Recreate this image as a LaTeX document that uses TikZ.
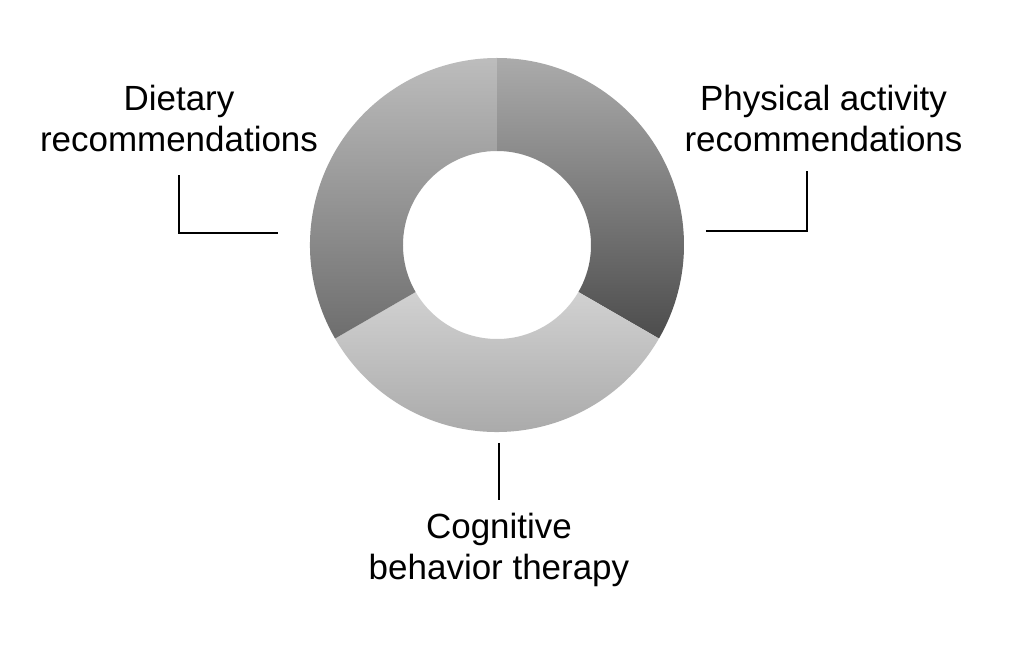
\documentclass[tikz,border=0pt]{standalone}
\usepackage{fontspec}
\setmainfont{Liberation Sans}
\usetikzlibrary{positioning}

\tikzset{
  label/.style={align=center,inner sep=0pt,anchor=base,font=\fontsize{19.9}{23.5}\selectfont},
  leader/.style={line width=0.9pt,black}
}

\begin{document}
\begin{tikzpicture}
		\useasboundingbox[fill=white] (-9.94,-8.06) rectangle (10.54,4.9);
		% ring segments
		\shade[top color=black!33,bottom color=black!70]
			(90:3.74) arc (90:-30:3.74) -- (-30:1.88) arc (-30:90:1.88) -- cycle;
		\shade[top color=black!18,bottom color=black!36]
			(-30:3.74) arc (-30:-150:3.74) -- (-150:1.88) arc (-150:-30:1.88) -- cycle;
		\shade[top color=black!26,bottom color=black!57]
			(210:3.74) arc (210:90:3.74) -- (90:1.88) arc (90:210:1.88) -- cycle;
		% labels
		\node[label] (diet) at (-6.36,1.86) {Dietary\\recommendations};
		\node[label] (phys) at (6.53,1.86) {Physical activity\\recommendations};
		\node[label] (cbt) at (0.04,-6.70) {Cognitive\\behavior therapy};
		\coordinate (dietend) at (-4.38,0.24);
		\coordinate (physend) at (4.18,0.28);
		\coordinate (cbtend) at (0.04,-3.96);
		\draw[leader] (dietend) -| ([yshift=-0.44cm]diet.south);
		\draw[leader] (physend) -| ([xshift=-0.33cm,yshift=-0.36cm]phys.south);
		\draw[leader] (cbtend) -- ([yshift=0.26cm]cbt.north);
		\end{tikzpicture}
\end{document}
